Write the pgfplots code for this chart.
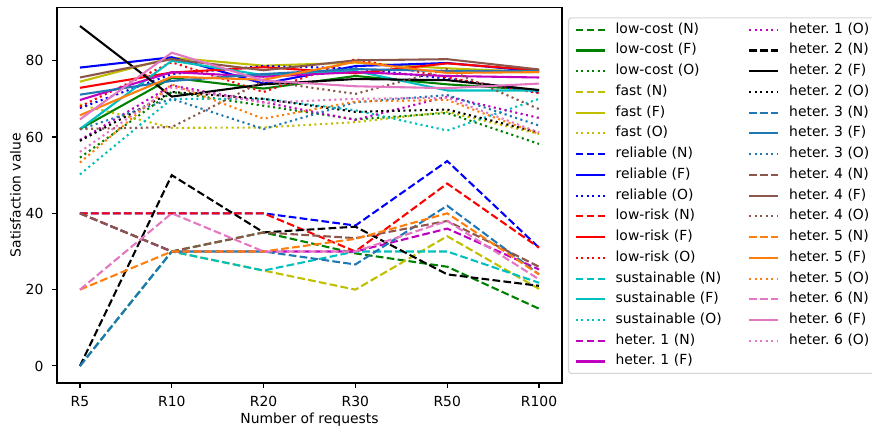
\documentclass[border=0pt]{standalone}
\usepackage{fontspec}
\setmainfont{DejaVu Sans}
\usepackage{pgfplots}
\usepackage{pgfplotstable}
\pgfplotsset{compat=1.18}
\frenchspacing

\definecolor{mg}{rgb}{0,0.5,0}
\definecolor{my}{rgb}{0.75,0.75,0}
\definecolor{mb}{rgb}{0,0,1}
\definecolor{mr}{rgb}{1,0,0}
\definecolor{mc}{rgb}{0,0.75,0.75}
\definecolor{mm}{rgb}{0.75,0,0.75}
\definecolor{mk}{rgb}{0,0,0}
\definecolor{tblue}{HTML}{1F77B4}
\definecolor{tbrown}{HTML}{8C564B}
\definecolor{torange}{HTML}{FF7F0E}
\definecolor{tpink}{HTML}{E377C2}
\definecolor{legframe}{HTML}{D6D6D6}

% N (dashed) series
\pgfplotstableread{
x lowcost fast reliable lowrisk sustainable h1 h2 h3 h4 h5 h6
0 40   0    40   40   0    40   0    0    40   20   20
1 30   30   40   40   30   30   50   30   30   30   40
2 35   25   40   40   25   30   35   30   35   30   30
3 29.5 20   36.8 30   30   30   36.5 26.6 33.5 33.3 30
4 26   34   53.7 47.8 30   36   24   42   38   40   38
5 15   20.2 31   31   21.8 25.3 21   24   26   24   22.7
}\tabN
% F (solid) series
\pgfplotstableread{
x lowcost fast reliable lowrisk sustainable h1 h2 h3 h4 h5 h6
0 62.1 74.5 78.2 72.9 62.1 69.7 89.1 71.1 75.6 65.7 64.6
1 75.5 80.8 80.9 76.9 80   77   70.6 74.7 80.4 75.8 82.1
2 72.7 78.7 74   78.3 76.2 75.8 73.8 76.5 77.5 75   74.8
3 76   79.5 78.6 76.7 77.3 77   75.2 77.8 80.1 79.7 73.3
4 73.8 78   79.4 79.3 72.2 76   74.9 77.3 80.4 76.8 72.8
5 72.3 77   77.2 77.5 72.2 75.6 72.3 77.3 77.7 77   74
}\tabF
% O (dotted) series
\pgfplotstableread{
x lowcost fast reliable lowrisk sustainable h1 h2 h3 h4 h5 h6
0 54.6 68.5 67.6 68   50.2 59.2 59   62   62.1 53.3 56.1
1 71.8 62.4 76.5 79.6 70   73.5 71.8 70   62.6 73.8 73
2 68.2 62.5 78.6 71.8 70   69.1 70   62.1 74.7 64.8 69
3 64.6 63.9 78   80.4 67   64.5 66.6 69.1 71.3 69.3 70
4 66.3 66.6 75.3 75.6 61.7 70.6 67.2 71   77.8 69.7 70.3
5 58.2 60.8 71.7 71.5 70   65   61.2 63   67.3 60.8 61.2
}\tabO

\pgfplotsset{
  sN/.style={line width=2.08pt, dash pattern=on 7.7pt off 3.3pt},
  sF/.style={line width=2.08pt},
  sO/.style={line width=2.08pt, dash pattern=on 2.08pt off 3.44pt},
}

\begin{document}
\begin{tikzpicture}[font=\fontsize{13.9}{16.7}\selectfont]
\begin{axis}[
  at={(0,0)}, anchor=south west,
  scale only axis, width=505pt, height=375.7pt,
  xmin=-0.25, xmax=5.25, ymin=-4.47, ymax=94,
  xtick={0,1,2,3,4,5}, xticklabels={R5,R10,R20,R30,R50,R100},
  ytick={0,20,40,60,80},
  xtick pos=bottom, ytick pos=left,
  tick align=outside, major tick length=4.9pt,
  every tick/.style={line width=1.1pt, black},
  axis line style={line width=1.1pt},
  /pgf/number format/assume math mode=true,
  xticklabel style={yshift=-5.2pt},
  yticklabel style={xshift=-5.2pt},
  xlabel={Number of requests}, ylabel={Satisfaction value},
  xlabel style={at={(rel axis cs:0.5,0)}, anchor=center, yshift=-37pt},
  ylabel style={at={(rel axis cs:0,0.5)}, anchor=center, yshift=41.5pt},
  legend columns=2,
  legend image code/.code={\draw[#1] (0pt,0pt) -- (29pt,0pt);},
  legend cell align=left,
  legend style={at={(rel axis cs:1,1)}, anchor=north west, xshift=6pt, yshift=-10pt,
    draw=legframe, line width=1.1pt, rounded corners=2.8pt, fill=white,
    inner xsep=6pt, inner ysep=5pt, row sep=6.83pt, column sep=0pt,
    nodes={inner xsep=0pt, inner ysep=0pt, text height=10.4pt, text depth=3.5pt, text width=124pt, align=left},
    /tikz/every odd column/.append style={column sep=10pt},
    /tikz/every even column/.append style={column sep=8.5pt},
  },
]
% plots in matplotlib order
\addplot[sN, mg, forget plot] table[x=x,y=lowcost] {\tabN};
\addplot[sF, mg, forget plot] table[x=x,y=lowcost] {\tabF};
\addplot[sO, mg, forget plot] table[x=x,y=lowcost] {\tabO};
\addplot[sN, my, forget plot] table[x=x,y=fast] {\tabN};
\addplot[sF, my, forget plot] table[x=x,y=fast] {\tabF};
\addplot[sO, my, forget plot] table[x=x,y=fast] {\tabO};
\addplot[sN, mb, forget plot] table[x=x,y=reliable] {\tabN};
\addplot[sF, mb, forget plot] table[x=x,y=reliable] {\tabF};
\addplot[sO, mb, forget plot] table[x=x,y=reliable] {\tabO};
\addplot[sN, mr, forget plot] table[x=x,y=lowrisk] {\tabN};
\addplot[sF, mr, forget plot] table[x=x,y=lowrisk] {\tabF};
\addplot[sO, mr, forget plot] table[x=x,y=lowrisk] {\tabO};
\addplot[sN, mc, forget plot] table[x=x,y=sustainable] {\tabN};
\addplot[sF, mc, forget plot] table[x=x,y=sustainable] {\tabF};
\addplot[sO, mc, forget plot] table[x=x,y=sustainable] {\tabO};
\addplot[sN, mm, forget plot] table[x=x,y=h1] {\tabN};
\addplot[sF, mm, forget plot] table[x=x,y=h1] {\tabF};
\addplot[sO, mm, forget plot] table[x=x,y=h1] {\tabO};
\addplot[sN, mk, forget plot] table[x=x,y=h2] {\tabN};
\addplot[sF, mk, forget plot] table[x=x,y=h2] {\tabF};
\addplot[sO, mk, forget plot] table[x=x,y=h2] {\tabO};
\addplot[sN, tblue, forget plot] table[x=x,y=h3] {\tabN};
\addplot[sF, tblue, forget plot] table[x=x,y=h3] {\tabF};
\addplot[sO, tblue, forget plot] table[x=x,y=h3] {\tabO};
\addplot[sN, tbrown, forget plot] table[x=x,y=h4] {\tabN};
\addplot[sF, tbrown, forget plot] table[x=x,y=h4] {\tabF};
\addplot[sO, tbrown, forget plot] table[x=x,y=h4] {\tabO};
\addplot[sN, torange, forget plot] table[x=x,y=h5] {\tabN};
\addplot[sF, torange, forget plot] table[x=x,y=h5] {\tabF};
\addplot[sO, torange, forget plot] table[x=x,y=h5] {\tabO};
\addplot[sN, tpink, forget plot] table[x=x,y=h6] {\tabN};
\addplot[sF, tpink, forget plot] table[x=x,y=h6] {\tabF};
\addplot[sO, tpink, forget plot] table[x=x,y=h6] {\tabO};
% legend, two columns filled column-wise
\addlegendimage{sN, mg}\addlegendentry{low-cost (N)}
\addlegendimage{sO, mm}\addlegendentry{heter. 1 (O)}
\addlegendimage{sF, mg}\addlegendentry{low-cost (F)}
\addlegendimage{sN, mk}\addlegendentry{heter. 2 (N)}
\addlegendimage{sO, mg}\addlegendentry{low-cost (O)}
\addlegendimage{sF, mk}\addlegendentry{heter. 2 (F)}
\addlegendimage{sN, my}\addlegendentry{fast (N)}
\addlegendimage{sO, mk}\addlegendentry{heter. 2 (O)}
\addlegendimage{sF, my}\addlegendentry{fast (F)}
\addlegendimage{sN, tblue}\addlegendentry{heter. 3 (N)}
\addlegendimage{sO, my}\addlegendentry{fast (O)}
\addlegendimage{sF, tblue}\addlegendentry{heter. 3 (F)}
\addlegendimage{sN, mb}\addlegendentry{reliable (N)}
\addlegendimage{sO, tblue}\addlegendentry{heter. 3 (O)}
\addlegendimage{sF, mb}\addlegendentry{reliable (F)}
\addlegendimage{sN, tbrown}\addlegendentry{heter. 4 (N)}
\addlegendimage{sO, mb}\addlegendentry{reliable (O)}
\addlegendimage{sF, tbrown}\addlegendentry{heter. 4 (F)}
\addlegendimage{sN, mr}\addlegendentry{low-risk (N)}
\addlegendimage{sO, tbrown}\addlegendentry{heter. 4 (O)}
\addlegendimage{sF, mr}\addlegendentry{low-risk (F)}
\addlegendimage{sN, torange}\addlegendentry{heter. 5 (N)}
\addlegendimage{sO, mr}\addlegendentry{low-risk (O)}
\addlegendimage{sF, torange}\addlegendentry{heter. 5 (F)}
\addlegendimage{sN, mc}\addlegendentry{sustainable (N)}
\addlegendimage{sO, torange}\addlegendentry{heter. 5 (O)}
\addlegendimage{sF, mc}\addlegendentry{sustainable (F)}
\addlegendimage{sN, tpink}\addlegendentry{heter. 6 (N)}
\addlegendimage{sO, mc}\addlegendentry{sustainable (O)}
\addlegendimage{sF, tpink}\addlegendentry{heter. 6 (F)}
\addlegendimage{sN, mm}\addlegendentry{heter. 1 (N)}
\addlegendimage{sO, tpink}\addlegendentry{heter. 6 (O)}
\addlegendimage{sF, mm}\addlegendentry{heter. 1 (F)}
\end{axis}
\pgfresetboundingbox
\path[use as bounding box] (-57pt,-46pt) rectangle (815pt,383pt);
\end{tikzpicture}
\end{document}
